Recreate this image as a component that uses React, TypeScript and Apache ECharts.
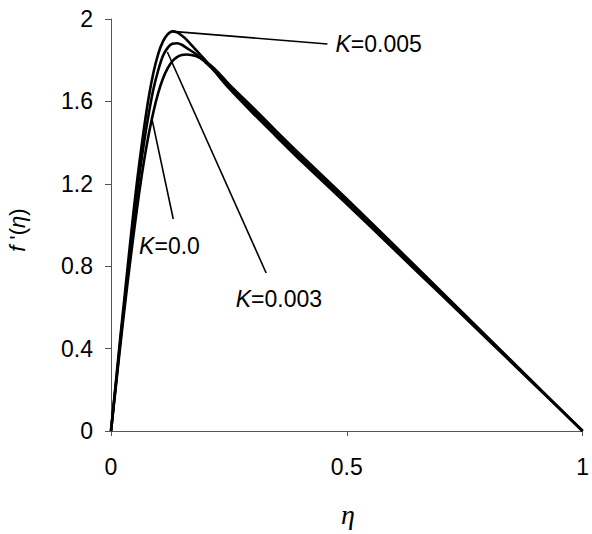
import React, { useEffect, useRef } from "react";
import * as echarts from "echarts";

const eta = [0, 0.01, 0.02, 0.03, 0.04, 0.05, 0.06, 0.07, 0.08, 0.09, 0.1, 0.11, 0.12, 0.13, 0.14, 0.15, 0.16, 0.18, 0.2, 0.22, 0.25, 0.3, 0.35, 0.4, 0.5, 0.6, 0.7, 0.8, 0.9, 1.0];
const fK005 = [0, 0.23, 0.46, 0.68, 0.9, 1.11, 1.3, 1.47, 1.62, 1.74, 1.83, 1.89, 1.925, 1.94, 1.935, 1.92, 1.9, 1.85, 1.8, 1.745, 1.664, 1.545, 1.431, 1.318, 1.102, 0.882, 0.662, 0.441, 0.221, 0];
const fK003 = [0, 0.22, 0.44, 0.65, 0.86, 1.06, 1.24, 1.4, 1.54, 1.66, 1.75, 1.82, 1.86, 1.88, 1.882, 1.875, 1.86, 1.83, 1.79, 1.747, 1.672, 1.558, 1.443, 1.331, 1.114, 0.892, 0.669, 0.446, 0.223, 0];
const fK000 = [0, 0.21, 0.42, 0.62, 0.81, 0.99, 1.16, 1.31, 1.44, 1.55, 1.64, 1.71, 1.76, 1.795, 1.815, 1.825, 1.828, 1.82, 1.795, 1.758, 1.684, 1.572, 1.457, 1.345, 1.127, 0.903, 0.677, 0.452, 0.226, 0];

const seriesNames = ["K=0.0", "K=0.003", "K=0.005"];
const seriesValues = [fK000, fK003, fK005];

// annotation leader lines & labels (data coordinates)
const annKValues = ["0.005", "0.0", "0.003"];
const annFrom = [[0.13, 1.94], [0.086, 1.524], [0.1195, 1.84]];
const annTo = [[0.459, 1.879], [0.132, 1.029], [0.329, 0.767]];
const annLabel = [[0.476, 1.879], [0.124, 0.898], [0.356, 0.641]];
const annAlign = ["left", "center", "center"];

const FONT = "'Liberation Sans', Arial, sans-serif";

export default function App() {
  const ref = useRef<HTMLDivElement>(null);
  useEffect(() => {
    if (!ref.current) return;
    const chart = echarts.init(ref.current, undefined, { renderer: "svg" });
    chart.setOption({
      animation: false,
      backgroundColor: "#fff",
      grid: { left: 111, right: 4, top: 19, bottom: 103, containLabel: false },
      xAxis: {
        type: "value",
        min: 0,
        max: 1,
        interval: 0.5,
        axisLine: { show: true, lineStyle: { color: "#555", width: 1 } },
        axisTick: { show: true, length: 5, lineStyle: { color: "#555" } },
        axisLabel: { fontSize: 23, color: "#000", fontFamily: FONT, margin: 24 },
        splitLine: { show: false },
      },
      yAxis: {
        type: "value",
        min: 0,
        max: 2,
        interval: 0.4,
        axisLine: { show: true, lineStyle: { color: "#555", width: 1 } },
        axisTick: { show: true, length: 6, lineStyle: { color: "#555" } },
        axisLabel: {
          fontSize: 23,
          color: "#000",
          fontFamily: FONT,
          margin: 18,
          formatter: (v: number) => (v === 0 ? "0" : String(Math.round(v * 10) / 10)),
        },
        splitLine: { show: false },
      },
      series: seriesValues.map((vals, i) => ({
        name: seriesNames[i],
        type: "line",
        data: eta.map((x, j) => [x, vals[j]]),
        showSymbol: false,
        smooth: 0.3,
        lineStyle: { color: "#000", width: 2.6 },
      })),
    });

    const graphics: any[] = [];
    for (let i = 0; i < annFrom.length; i++) {
      const p1 = chart.convertToPixel({ gridIndex: 0 }, annFrom[i]);
      const p2 = chart.convertToPixel({ gridIndex: 0 }, annTo[i]);
      const pl = chart.convertToPixel({ gridIndex: 0 }, annLabel[i]);
      graphics.push({
        type: "line",
        shape: { x1: p1[0], y1: p1[1], x2: p2[0], y2: p2[1] },
        style: { stroke: "#000", lineWidth: 1.6 },
        z: 10,
      });
      graphics.push({
        type: "text",
        x: pl[0],
        y: pl[1],
        style: {
          text: "{i|K}{n|=" + annKValues[i] + "}",
          align: annAlign[i],
          verticalAlign: "middle",
          fill: "#000",
          fontSize: 23,
          fontFamily: FONT,
          rich: {
            i: { fontStyle: "italic", fontSize: 23, fontFamily: FONT, fill: "#000" },
            n: { fontSize: 23, fontFamily: FONT, fill: "#000" },
          },
        },
        z: 10,
      });
    }
    // axis titles
    graphics.push({
      type: "text",
      x: 348,
      y: 514,
      style: {
        text: "η",
        align: "center",
        verticalAlign: "middle",
        fontSize: 28,
        fontStyle: "italic",
        fontFamily: "'Liberation Serif', 'Times New Roman', serif",
        fill: "#000",
      },
    });
    graphics.push({
      type: "text",
      x: 17,
      y: 230,
      rotation: Math.PI / 2,
      style: {
        text: "{i|f} {n|'(}{i|η}{n|)}",
        align: "center",
        verticalAlign: "middle",
        fontSize: 22,
        fontFamily: FONT,
        fill: "#000",
        rich: {
          i: { fontStyle: "italic", fontSize: 22, fontFamily: FONT, fill: "#000" },
          n: { fontSize: 22, fontFamily: FONT, fill: "#000" },
        },
      },
    });
    chart.setOption({ graphic: graphics });

    return () => chart.dispose();
  }, []);
  return (
    <div
      ref={ref}
      style={{ position: "fixed", left: 0, top: 0, width: 592, height: 534 }}
    />
  );
}
